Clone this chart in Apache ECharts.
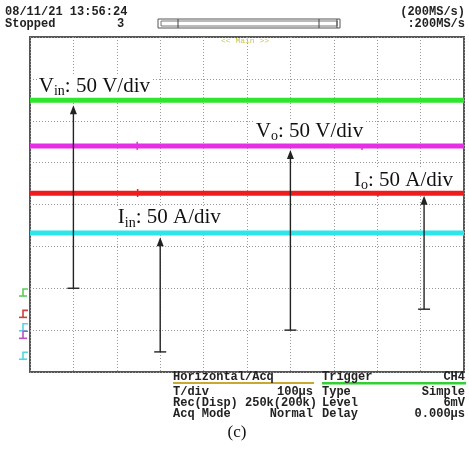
<!DOCTYPE html>
<html><head><meta charset="utf-8">
<script src="https://cdn.jsdelivr.net/npm/echarts@6/dist/echarts.min.js"></script>
<style>html,body{margin:0;padding:0;background:#fff}#c{width:469px;height:456px}</style>
</head><body><div id="c"></div>
<script>
// ---- data (screen divisions) ----
const xDivs = [0, 10];          // 10 horizontal divisions
const yDivs = [-4, 4];          // 8 vertical divisions, 0 = centre
const vinTrace = [[0, 2.49], [10, 2.49]];
const voTrace  = [[0, 1.40], [10, 1.40]];
const ioTrace  = [[0, 0.27], [10, 0.27]];
const iinTrace = [[0, -0.68], [10, -0.68]];
// small glitches on traces: [x, from, to, channel]
const glitches = [[2.47, 1.30, 1.50, 1], [7.65, 1.30, 1.42, 1], [2.48, 0.18, 0.37, 2], [8.02, 0.19, 0.27, 2]];
// arrows: [x, bottom, tip]
const arrows = [[1, -2.0, 2.37], [6, -3.0, 1.30], [9.08, -2.5, 0.21], [3, -3.52, -0.78]];
// annotations: [x, y, main, sub, rest]
const notes = [
  [0.18, 2.83, 'V', 'in', ': 50 V/div'],
  [5.18, 1.75, 'V', 'o', ': 50 V/div'],
  [7.44, 0.58, 'I', 'o', ': 50 A/div'],
  [2.00, -0.32, 'I', 'in', ': 50 A/div']
];
// ground markers on the left: [level, colour index]
const grounds = [[-2.09, 0], [-2.60, 1], [-2.92, 3], [-3.10, 2], [-3.60, 3]];
const chColors = ['#2ee62e', '#e62ee6', '#ee1c1c', '#2ee6ea'];
const gndColors = ['#5ccc5c', '#cc4040', '#c050c8', '#50d8dc'];

const mono = '"Liberation Mono", "DejaVu Sans Mono", monospace';
const serif = '"Liberation Serif", "Times New Roman", serif';

const chart = echarts.init(document.getElementById('c'));

function txt(x, y, s, align, extra) {
  return Object.assign({type: 'text', x: x, y: y, z: 10,
    style: {text: s, font: 'bold 12px ' + mono, fill: '#222', align: align || 'left', verticalAlign: 'middle'}}, extra || {});
}

const option = {
  animation: false,
  backgroundColor: '#fff',
  grid: {left: 30, right: 5, top: 37, bottom: 84, show: true, borderColor: '#555', borderWidth: 2, backgroundColor: '#fff'},
  xAxis: {type: 'value', min: xDivs[0], max: xDivs[1], interval: 1,
    axisLine: {show: false}, axisTick: {show: false}, axisLabel: {show: false},
    splitLine: {show: true, lineStyle: {color: '#9a9a9a', type: [1, 2], width: 1}}},
  yAxis: {type: 'value', min: yDivs[0], max: yDivs[1], interval: 1,
    axisLine: {show: false}, axisTick: {show: false}, axisLabel: {show: false},
    splitLine: {show: true, lineStyle: {color: '#9a9a9a', type: [1, 2], width: 1}}},
  series: [
    {type: 'line', data: vinTrace, symbol: 'none', lineStyle: {color: chColors[0], width: 5}, z: 3},
    {type: 'line', data: voTrace, symbol: 'none', lineStyle: {color: chColors[1], width: 5}, z: 3},
    {type: 'line', data: ioTrace, symbol: 'none', lineStyle: {color: chColors[2], width: 5}, z: 3},
    {type: 'line', data: iinTrace, symbol: 'none', lineStyle: {color: chColors[3], width: 5}, z: 3},
    {type: 'custom', data: glitches, z: 3,
      renderItem: function (p, api) {
        const a = api.coord([api.value(0), api.value(1)]);
        const b = api.coord([api.value(0), api.value(2)]);
        return {type: 'line', shape: {x1: a[0], y1: a[1], x2: b[0], y2: b[1]},
          style: {stroke: chColors[api.value(3)], lineWidth: 1.5}};
      }},
    {type: 'custom', data: arrows, z: 5, clip: false,
      renderItem: function (p, api) {
        const b = api.coord([api.value(0), api.value(1)]);
        const t = api.coord([api.value(0), api.value(2)]);
        const st = {stroke: '#222', lineWidth: 1.4};
        return {type: 'group', children: [
          {type: 'line', shape: {x1: b[0], y1: b[1], x2: t[0], y2: t[1] + 6}, style: st},
          {type: 'line', shape: {x1: b[0] - 6, y1: b[1], x2: b[0] + 6, y2: b[1]}, style: st},
          {type: 'polygon', shape: {points: [[t[0], t[1]], [t[0] - 3.5, t[1] + 9], [t[0] + 3.5, t[1] + 9]]}, style: {fill: '#222'}}
        ]};
      }},
    {type: 'custom', data: notes.map(n => [n[0], n[1]]), z: 2, clip: false,
      renderItem: function (p, api) {
        const n = notes[p.dataIndex];
        const c = api.coord([api.value(0), api.value(1)]);
        return {type: 'text', x: c[0], y: c[1], style: {
          text: '{m|' + n[2] + '}{s|' + n[3] + '}{m|' + n[4] + '}',
          align: 'left', verticalAlign: 'middle', backgroundColor: '#fff', padding: [0, 2, 0, 1],
          rich: {
            m: {fontSize: 21, fontFamily: serif, fill: '#111', lineHeight: 24},
            s: {fontSize: 14, fontFamily: serif, fill: '#111', lineHeight: 10, verticalAlign: 'bottom'}
          }}};
      }},
    {type: 'custom', data: grounds, z: 4, clip: false,
      renderItem: function (p, api) {
        const c = api.coord([0, api.value(0)]);
        const x0 = c[0] - 2, y = c[1] - 3;
        const st = {stroke: gndColors[api.value(1)], lineWidth: 1.6, fill: null};
        return {type: 'group', children: [
          {type: 'polyline', shape: {points: [[x0, y], [x0 - 5, y], [x0 - 5, y + 7]]}, style: st},
          {type: 'line', shape: {x1: x0 - 9, y1: y + 7, x2: x0 - 1, y2: y + 7}, style: st}
        ]};
      }}
  ],
  graphic: [
    txt(5, 12, '08/11/21 13:56:24'),
    txt(5, 24, 'Stopped'),
    txt(117, 24, '3'),
    txt(465, 12, '(200MS/s)', 'right'),
    txt(465, 24, ':200MS/s', 'right'),
    {type: 'rect', shape: {x: 158, y: 19, width: 182, height: 9}, style: {stroke: '#555', fill: 'none', lineWidth: 1}},
    {type: 'rect', shape: {x: 161, y: 21, width: 176, height: 5}, style: {stroke: '#777', fill: 'none', lineWidth: 1}},
    {type: 'line', shape: {x1: 178, y1: 19, x2: 178, y2: 28}, style: {stroke: '#444', lineWidth: 1}},
    {type: 'line', shape: {x1: 319, y1: 19, x2: 319, y2: 28}, style: {stroke: '#444', lineWidth: 1}},
    {type: 'line', shape: {x1: 337, y1: 19, x2: 337, y2: 28}, style: {stroke: '#444', lineWidth: 1}},
    {type: 'text', x: 245, y: 41, z: 10, style: {text: '<< Main >>', font: '8px ' + mono, fill: '#c8c850', align: 'center', verticalAlign: 'middle'}},
    txt(173, 377, 'Horizontal/Acq'),
    {type: 'rect', shape: {x: 173, y: 382, width: 141, height: 2}, style: {fill: '#c9a832'}},
    txt(322, 377, 'Trigger'),
    {type: 'rect', shape: {x: 322, y: 382, width: 144, height: 2.5}, style: {fill: '#33d033'}},
    txt(465, 377, 'CH4', 'right'),
    txt(173, 392, 'T/div'), txt(313, 392, '100μs', 'right'), txt(322, 392, 'Type'), txt(465, 392, 'Simple', 'right'),
    txt(173, 403, 'Rec(Disp) 250k(200k)'), txt(322, 403, 'Level'), txt(465, 403, '6mV', 'right'),
    txt(173, 414, 'Acq Mode'), txt(313, 414, 'Normal', 'right'), txt(322, 414, 'Delay'), txt(465, 414, '0.000μs', 'right'),
    {type: 'text', x: 237, y: 433, z: 10, style: {text: '(c)', font: '17px ' + serif, fill: '#111', align: 'center', verticalAlign: 'middle'}}
  ]
};
chart.setOption(option);
</script></body></html>
